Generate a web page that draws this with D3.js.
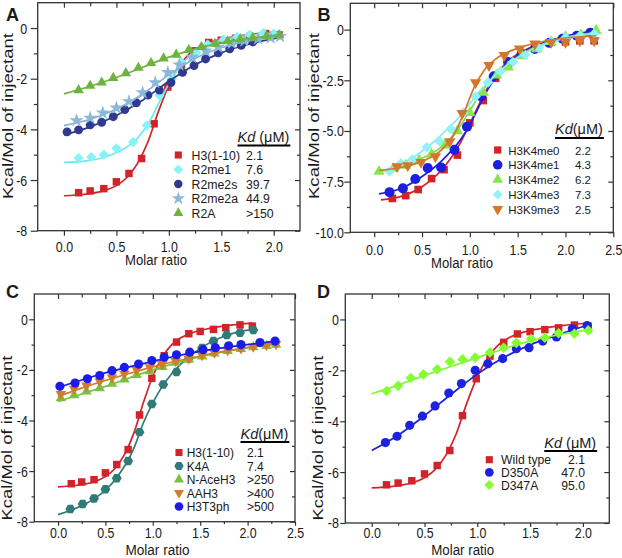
<!DOCTYPE html>
<html><head><meta charset="utf-8">
<script src="https://cdn.jsdelivr.net/npm/d3@7"></script>
<style>
body{margin:0;background:#fff}
svg{display:block}
text{font-family:'Liberation Sans',Arial,sans-serif;fill:#1a1a1a}
</style></head><body>
<svg id="c" width="622" height="558"></svg>
<script>
// ---------- DATA ----------
// Shared wild-type H3(1-10) titration (panels A, C, D)
const h3Ratio = [0.14,0.25,0.38,0.50,0.62,0.74,0.86,0.99,1.12,1.25,1.38,1.50,1.64,1.77,1.92,2.05];
const h3Heat  = [-6.50,-6.43,-6.34,-6.07,-5.74,-5.15,-3.78,-2.33,-1.44,-0.90,-0.57,-0.48,-0.40,-0.33,-0.22,-0.27];
const h3FitRatio = [0,0.2,0.4,0.5,0.6,0.7,0.8,0.9,1.0,1.1,1.2,1.3,1.4,1.6,1.8,2.05];
const h3FitHeat  = [-6.62,-6.56,-6.40,-6.22,-5.90,-5.35,-4.50,-3.30,-2.25,-1.50,-1.00,-0.72,-0.55,-0.36,-0.24,-0.15];

// Panel A
const r2me1Ratio = [0.14,0.26,0.38,0.50,0.66,0.79,0.91,1.03,1.12,1.26,1.37,1.52,1.65,1.77,1.90,2.00];
const r2me1Heat  = [-5.13,-5.09,-5.00,-4.75,-4.50,-3.84,-2.66,-2.00,-1.35,-0.98,-0.65,-0.46,-0.35,-0.26,-0.20,-0.22];
const r2me1FitRatio = [0,0.2,0.4,0.55,0.7,0.8,0.9,1.0,1.1,1.2,1.35,1.5,1.7,2.05];
const r2me1FitHeat  = [-5.30,-5.25,-5.08,-4.82,-4.35,-3.80,-3.00,-2.20,-1.55,-1.10,-0.70,-0.48,-0.32,-0.20];

const r2me2sRatio = [0.03,0.14,0.25,0.36,0.47,0.58,0.69,0.80,0.91,1.02,1.13,1.24,1.35,1.47,1.58,1.69,1.80];
const r2me2sHeat  = [-4.10,-4.02,-3.82,-3.72,-3.50,-3.22,-2.95,-2.65,-2.45,-2.15,-1.75,-1.48,-1.22,-0.98,-0.82,-0.68,-0.55];
const r2me2sFitRatio = [0,0.25,0.5,0.75,1.0,1.25,1.5,1.75,2.05];
const r2me2sFitHeat  = [-4.22,-3.90,-3.45,-2.85,-2.10,-1.45,-0.98,-0.65,-0.38];

const r2me2aRatio = [0.12,0.25,0.37,0.50,0.62,0.75,0.87,0.99,1.10,1.22,1.35,1.47,1.60,1.72,1.85,1.97,2.06];
const r2me2aHeat  = [-3.65,-3.55,-3.35,-3.15,-2.90,-2.55,-2.15,-1.75,-1.45,-1.15,-0.90,-0.75,-0.60,-0.50,-0.42,-0.38,-0.33];
const r2me2aFitRatio = [0,0.25,0.5,0.75,1.0,1.25,1.5,1.75,2.05];
const r2me2aFitHeat  = [-3.85,-3.60,-3.20,-2.60,-1.85,-1.20,-0.78,-0.52,-0.33];

const r2aRatio = [0.14,0.25,0.36,0.47,0.59,0.71,0.83,0.95,1.07,1.19,1.31,1.44,1.56,1.68,1.80,1.93,2.05];
const r2aHeat  = [-2.45,-2.28,-2.15,-1.97,-1.78,-1.57,-1.38,-1.20,-1.05,-0.87,-0.75,-0.62,-0.52,-0.44,-0.38,-0.32,-0.28];
const r2aFitRatio = [0,0.25,0.5,0.75,1.0,1.25,1.5,1.75,2.05];
const r2aFitHeat  = [-2.60,-2.30,-1.95,-1.55,-1.15,-0.82,-0.58,-0.42,-0.28];

// Panel B
const me0Ratio = [0.19,0.33,0.46,0.60,0.73,0.87,1.00,1.14,1.27,1.41,1.55,1.69,1.85,2.00,2.15,2.30];
const me0Heat  = [-8.33,-8.19,-7.89,-7.35,-6.91,-6.19,-4.60,-3.50,-2.40,-1.65,-1.20,-0.95,-0.60,-0.60,-0.55,-0.55];
const me0FitRatio = [0.07,0.3,0.5,0.7,0.9,1.0,1.1,1.2,1.4,1.6,1.9,2.32];
const me0FitHeat  = [-8.40,-8.20,-7.75,-6.95,-5.60,-4.65,-3.65,-2.75,-1.55,-0.95,-0.50,-0.28];

const me1Ratio = [0.16,0.30,0.43,0.56,0.70,0.84,0.97,1.12,1.25,1.40,1.54,1.68,1.83,1.97,2.12,2.26];
const me1Heat  = [-8.02,-7.83,-7.37,-6.83,-6.80,-5.93,-4.79,-3.30,-2.30,-1.60,-1.20,-0.95,-0.65,-0.45,-0.30,-0.15];
const me1FitRatio = [0.05,0.3,0.5,0.7,0.9,1.0,1.1,1.2,1.4,1.6,1.9,2.32];
const me1FitHeat  = [-8.10,-7.80,-7.25,-6.50,-5.45,-4.70,-3.75,-2.85,-1.65,-1.00,-0.45,-0.05];

const me2Ratio = [0.05,0.20,0.33,0.47,0.60,0.74,0.87,1.00,1.14,1.28,1.40,1.55,1.70,1.85,2.00,2.16,2.32];
const me2Heat  = [-7.00,-6.85,-6.70,-6.45,-6.15,-5.70,-5.00,-4.10,-3.10,-2.25,-1.85,-1.30,-0.95,-0.60,-0.35,-0.25,-0.05];
const me2FitRatio = [0.05,0.3,0.5,0.7,0.9,1.0,1.1,1.2,1.3,1.4,1.6,1.9,2.32];
const me2FitHeat  = [-7.00,-6.75,-6.35,-5.80,-4.75,-4.00,-3.25,-2.60,-2.10,-1.70,-1.05,-0.50,-0.15];

const me3Ratio = [0.16,0.28,0.40,0.55,0.68,0.80,0.93,1.06,1.19,1.32,1.45,1.58,1.72,1.86,2.00,2.15,2.30];
const me3Heat  = [-7.00,-6.60,-6.40,-5.80,-5.50,-4.90,-4.10,-3.30,-2.60,-2.05,-1.60,-1.25,-0.90,-0.60,-0.40,-0.30,-0.20];
const me3FitRatio = [0.1,0.3,0.5,0.7,0.9,1.0,1.1,1.2,1.4,1.6,1.9,2.32];
const me3FitHeat  = [-6.95,-6.60,-6.00,-5.20,-4.25,-3.65,-3.05,-2.55,-1.70,-1.10,-0.55,-0.20];

const k9Ratio = [0.24,0.35,0.49,0.64,0.79,0.92,1.06,1.20,1.36,1.52,1.68,1.85,2.00,2.15,2.30];
const k9Heat  = [-6.75,-6.70,-6.54,-6.26,-5.52,-4.13,-2.61,-1.76,-1.27,-0.95,-0.70,-0.62,-0.62,-0.54,-0.54];
const k9FitRatio = [0.05,0.3,0.5,0.7,0.85,0.95,1.05,1.15,1.3,1.5,1.8,2.32];
const k9FitHeat  = [-6.95,-6.78,-6.50,-5.95,-5.05,-3.95,-2.80,-2.00,-1.35,-0.92,-0.55,-0.30];

// Panel C
const k4aRatio = [0.13,0.26,0.38,0.50,0.62,0.74,0.86,0.99,1.11,1.25,1.38,1.52,1.64,1.78,1.92,2.06];
const k4aHeat  = [-7.50,-7.30,-7.08,-6.72,-6.28,-5.60,-4.46,-3.35,-2.58,-2.08,-1.55,-1.13,-0.86,-0.62,-0.53,-0.42];
const k4aFitRatio = [0,0.2,0.4,0.6,0.8,0.9,1.0,1.1,1.2,1.3,1.5,1.7,1.9,2.06];
const k4aFitHeat  = [-7.72,-7.45,-7.05,-6.35,-5.10,-4.10,-3.30,-2.65,-2.15,-1.75,-1.15,-0.75,-0.50,-0.40];

const naceRatio = [0.03,0.17,0.30,0.44,0.57,0.70,0.83,0.97,1.10,1.24,1.38,1.52,1.65,1.79,1.93,2.06,2.20,2.30];
const naceHeat  = [-3.12,-3.00,-2.85,-2.72,-2.55,-2.38,-2.20,-2.05,-1.88,-1.72,-1.60,-1.47,-1.35,-1.25,-1.17,-1.10,-1.05,-1.00];
const naceFitRatio = [0,0.25,0.5,0.75,1.0,1.25,1.5,1.75,2.0,2.3];
const naceFitHeat  = [-3.25,-2.95,-2.65,-2.32,-2.00,-1.72,-1.48,-1.28,-1.12,-0.98];

const aah3Ratio = [0.03,0.17,0.30,0.44,0.57,0.70,0.83,0.97,1.10,1.24,1.38,1.52,1.65,1.79,1.93,2.06,2.20,2.30];
const aah3Heat  = [-2.95,-2.75,-2.62,-2.45,-2.30,-2.15,-2.00,-1.90,-1.78,-1.65,-1.55,-1.42,-1.32,-1.22,-1.15,-1.08,-1.02,-0.98];
const aah3FitRatio = [0,0.25,0.5,0.75,1.0,1.25,1.5,1.75,2.0,2.3];
const aah3FitHeat  = [-3.05,-2.72,-2.42,-2.14,-1.88,-1.65,-1.45,-1.27,-1.12,-0.97];

const t3phRatio = [0.02,0.18,0.31,0.44,0.57,0.70,0.85,0.99,1.12,1.25,1.39,1.53,1.66,1.80,1.93,2.13,2.29];
const t3phHeat  = [-2.65,-2.52,-2.35,-2.22,-2.03,-1.90,-1.77,-1.63,-1.50,-1.40,-1.30,-1.20,-1.12,-1.05,-1.00,-0.92,-0.86];
const t3phFitRatio = [0,0.25,0.5,0.75,1.0,1.25,1.5,1.75,2.0,2.3];
const t3phFitHeat  = [-2.70,-2.40,-2.12,-1.88,-1.66,-1.45,-1.27,-1.12,-1.00,-0.86];

// Panel D
const d350Ratio = [0.13,0.24,0.36,0.48,0.60,0.73,0.85,0.98,1.10,1.24,1.37,1.49,1.62,1.75,1.90,2.04];
const d350Heat  = [-4.84,-4.59,-4.16,-3.80,-3.40,-2.89,-2.52,-2.00,-1.74,-1.54,-1.15,-1.11,-0.85,-0.69,-0.37,-0.24];
const d350FitRatio = [0,0.25,0.5,0.75,1.0,1.25,1.5,1.75,2.05];
const d350FitHeat  = [-5.15,-4.55,-3.78,-2.95,-2.15,-1.50,-1.00,-0.62,-0.22];

const d347Ratio = [0.14,0.25,0.37,0.49,0.62,0.74,0.86,0.98,1.12,1.25,1.37,1.51,1.64,1.77,1.92,2.05];
const d347Heat  = [-2.81,-2.61,-2.30,-2.16,-1.96,-1.66,-1.57,-1.50,-1.30,-1.11,-0.92,-0.77,-0.72,-0.54,-0.56,-0.43];
const d347FitRatio = [0,0.25,0.5,0.75,1.0,1.25,1.5,1.75,2.05];
const d347FitHeat  = [-2.92,-2.58,-2.20,-1.85,-1.50,-1.15,-0.85,-0.62,-0.40];

// Legends
const labelsA = ["H3(1-10)","R2me1","R2me2s","R2me2a","R2A"];
const kdA = ["2.1","7.6","39.7","44.9",">150"];
const labelsB = ["H3K4me0","H3K4me1","H3K4me2","H3K4me3","H3K9me3"];
const kdB = ["2.2","4.3","6.2","7.3","2.5"];
const labelsC = ["H3(1-10)","K4A","N-AceH3","AAH3","H3T3ph"];
const kdC = ["2.1","7.4",">250",">400",">500"];
const labelsD = ["Wild type","D350A","D347A"];
const kdD = ["2.1","47.0","95.0"];

// Ticks
const xTicks25 = [0,0.5,1.0,1.5,2.0,2.5];
const xTicks20 = [0,0.5,1.0,1.5,2.0];
const xMinor = [0.25,0.75,1.25,1.75,2.25];
const yTicks8 = [-8,-6,-4,-2,0];
const yMinor8 = [-7,-5,-3,-1];
const yTicks10 = [-10,-7.5,-5,-2.5,0];
const yMinor10 = [-8.75,-6.25,-3.75,-1.25];

// ---------- DRAWING ----------
const svg = d3.select("#c");

const symbolHex = {draw(ctx, size){
  const r = Math.sqrt(size*2/(3*Math.sqrt(3)));
  for(let i=0;i<6;i++){const a=Math.PI/3*i; const px=r*Math.cos(a), py=r*Math.sin(a); if(i===0) ctx.moveTo(px,py); else ctx.lineTo(px,py);}
  ctx.closePath();
}};
const SH = {
  square:{t:d3.symbolSquare,r:0}, circle:{t:d3.symbolCircle,r:0}, up:{t:d3.symbolTriangle,r:0},
  down:{t:d3.symbolTriangle,r:180}, diamond:{t:d3.symbolSquare,r:45}, star:{t:d3.symbolStar,r:0}, hex:{t:symbolHex,r:0}
};

const fmtX = d => d.toFixed(1);
const fmtY8 = d => d === 0 ? "0" : "-" + Math.abs(d);
const fmtY10 = d => d === 0 ? "0" : "-" + Math.abs(d).toFixed(1);

function drawPanel(p){
  const x = d3.scaleLinear().domain(p.xDom).range([p.left,p.right]);
  const y = d3.scaleLinear().domain(p.yDom).range([p.bottom,p.top]);
  const g = svg.append("g");
  const style = sel => {
    sel.select(".domain").remove();
    sel.selectAll(".tick line").attr("stroke","#333").attr("stroke-width",1.2);
    sel.selectAll(".tick text").attr("fill","#1a1a1a").style("font-size","15.5px")
      .style("font-family","'Liberation Sans',Arial,sans-serif")
      .each(function(){ const L=this.getComputedTextLength(); if(L>0){ d3.select(this).attr("textLength",L*0.8).attr("lengthAdjust","spacingAndGlyphs"); } });
  };
  const xm = p.xMajor, xn = xMinor.filter(v=>v<p.xDom[1]);
  // bottom
  g.append("g").attr("transform",`translate(0,${p.bottom})`)
    .call(d3.axisBottom(x).tickValues(xm).tickSize(p.bt).tickPadding(p.bp).tickFormat(fmtX)).call(style);
  g.append("g").attr("transform",`translate(0,${p.bottom})`)
    .call(d3.axisBottom(x).tickValues(xn).tickSize(p.bt*0.6).tickFormat("")).call(style);
  // top (inward)
  g.append("g").attr("transform",`translate(0,${p.top})`)
    .call(d3.axisTop(x).tickValues(xm).tickSize(-5).tickFormat("")).call(style);
  g.append("g").attr("transform",`translate(0,${p.top})`)
    .call(d3.axisTop(x).tickValues(xn).tickSize(-3.5).tickFormat("")).call(style);
  // left
  g.append("g").attr("transform",`translate(${p.left},0)`)
    .call(d3.axisLeft(y).tickValues(p.yMajor).tickSize(p.lt).tickPadding(p.lp).tickFormat(p.fmtY)).call(style);
  g.append("g").attr("transform",`translate(${p.left},0)`)
    .call(d3.axisLeft(y).tickValues(p.yMinor).tickSize(p.lt*0.55).tickFormat("")).call(style);
  // right (inward)
  g.append("g").attr("transform",`translate(${p.right},0)`)
    .call(d3.axisRight(y).tickValues(p.yMajor).tickSize(-5).tickFormat("")).call(style);
  g.append("g").attr("transform",`translate(${p.right},0)`)
    .call(d3.axisRight(y).tickValues(p.yMinor).tickSize(-3).tickFormat("")).call(style);
  // frame
  g.append("rect").attr("x",p.left).attr("y",p.top).attr("width",p.right-p.left).attr("height",p.bottom-p.top)
    .attr("fill","none").attr("stroke","#333").attr("stroke-width",1.3);

  // series
  const line = d3.line().x(d=>x(d[0])).y(d=>y(d[1])).curve(d3.curveMonotoneX);
  p.series.forEach(s=>{
    g.append("path").datum(d3.zip(s.fx,s.fy)).attr("d",line)
      .attr("fill","none").attr("stroke",s.lc||s.c).attr("stroke-width",1.7);
    const sh = SH[s.shape];
    g.append("g").selectAll("path").data(d3.zip(s.x,s.y)).join("path")
      .attr("transform",d=>`translate(${x(d[0])},${y(d[1])}) rotate(${sh.r})`)
      .attr("d",d3.symbol(sh.t,s.size)()).attr("fill",s.c);
  });

  // panel letter
  g.append("text").attr("x",p.lx).attr("y",p.ly).text(p.letter)
    .style("font-weight","bold").style("font-size","18px").attr("fill","#000");
  // axis titles
  g.append("text").attr("x",p.xtx).attr("y",p.xty).attr("text-anchor","middle")
    .style("font-size","14px").attr("textLength",p.xtl).attr("lengthAdjust","spacingAndGlyphs").text("Molar ratio");
  g.append("text").attr("transform",`translate(${p.ytx},${p.yty}) rotate(-90)`).attr("text-anchor","middle")
    .style("font-size","14px").attr("textLength",p.ytl).attr("lengthAdjust","spacingAndGlyphs").text("Kcal/Mol of injectant");

  // legend header
  const hd = g.append("text").attr("x",p.hx).attr("y",p.hy).style("font-size","14.5px");
  hd.append("tspan").style("font-style","italic").text("Kd");
  hd.append("tspan").text(p.hsp ? " (\u03bcM)" : "(\u03bcM)");
  const w = hd.node().getComputedTextLength();
  g.append("line").attr("x1",p.hx).attr("x2",p.hx+w+1).attr("y1",p.uy).attr("y2",p.uy)
    .attr("stroke","#000").attr("stroke-width",1.8);
  // legend rows
  p.series.forEach((s,i)=>{
    const ry = p.ry0 + i*p.rdy, sh = SH[s.shape];
    g.append("path").attr("transform",`translate(${p.mx},${ry}) rotate(${sh.r})`)
      .attr("d",d3.symbol(sh.t,s.size*0.9)()).attr("fill",s.c);
    g.append("text").attr("x",p.tx).attr("y",ry+4.5).style("font-size",p.lfs).text(p.labels[i]);
    g.append("text").attr("x",p.vx).attr("y",ry+4.5).attr("text-anchor",p.va||"start").style("font-size",p.lfs).text(p.kd[i]);
  });
}

const RED = "#d2232a";
drawPanel({letter:"A",lx:6,ly:21,left:37.7,right:300,top:2.7,bottom:230.7,xDom:[-0.25,2.25],yDom:[-8,1],
  xMajor:xTicks20,yMajor:yTicks8,yMinor:yMinor8,fmtY:fmtY8,bt:5,bp:5,lt:7,lp:3.5,
  xtx:156,xty:265,xtl:62,ytx:12.5,yty:116,ytl:166,
  hx:237.5,hy:142,uy:145.5,hsp:true,mx:178.3,ry0:155,rdy:14.5,tx:191.5,vx:246,lfs:"12.3px",
  labels:labelsA,kd:kdA,
  series:[
    {x:h3Ratio,y:h3Heat,fx:h3FitRatio,fy:h3FitHeat,c:RED,shape:"square",size:56},
    {x:r2me1Ratio,y:r2me1Heat,fx:r2me1FitRatio,fy:r2me1FitHeat,c:"#86f4f7",lc:"#6de8ef",shape:"diamond",size:52},
    {x:r2me2sRatio,y:r2me2sHeat,fx:r2me2sFitRatio,fy:r2me2sFitHeat,c:"#2e3a91",shape:"circle",size:62},
    {x:r2me2aRatio,y:r2me2aHeat,fx:r2me2aFitRatio,fy:r2me2aFitHeat,c:"#8bb9da",lc:"#80b2d6",shape:"star",size:62},
    {x:r2aRatio,y:r2aHeat,fx:r2aFitRatio,fy:r2aFitHeat,c:"#6db33f",shape:"up",size:48}
  ]});

drawPanel({letter:"B",lx:317.5,ly:21,left:350.3,right:613.3,top:3.3,bottom:232.3,xDom:[-0.25,2.5],yDom:[-10,1.3],
  xMajor:xTicks25,yMajor:yTicks10,yMinor:yMinor10,fmtY:fmtY10,bt:5,bp:7,lt:6,lp:0.5,
  xtx:462,xty:268,xtl:62,ytx:319,yty:116,ytl:166,
  hx:555,hy:134,uy:138,hsp:false,mx:497.7,ry0:150,rdy:14.8,tx:508.3,vx:575,lfs:"11.5px",
  labels:labelsB,kd:kdB,
  series:[
    {x:me0Ratio,y:me0Heat,fx:me0FitRatio,fy:me0FitHeat,c:RED,shape:"square",size:58},
    {x:me1Ratio,y:me1Heat,fx:me1FitRatio,fy:me1FitHeat,c:"#1c1fe0",shape:"circle",size:80},
    {x:me2Ratio,y:me2Heat,fx:me2FitRatio,fy:me2FitHeat,c:"#86e64a",lc:"#7edc44",shape:"up",size:56},
    {x:me3Ratio,y:me3Heat,fx:me3FitRatio,fy:me3FitHeat,c:"#93f2f5",lc:"#86ecf0",shape:"diamond",size:56},
    {x:k9Ratio,y:k9Heat,fx:k9FitRatio,fy:k9FitHeat,c:"#d4762c",shape:"down",size:56}
  ]});

drawPanel({letter:"C",lx:6,ly:297.5,left:34.3,right:295,top:294,bottom:521.7,xDom:[-0.25,2.5],yDom:[-8,1],
  xMajor:xTicks25,yMajor:yTicks8,yMinor:yMinor8,fmtY:fmtY8,bt:4,bp:1.3,lt:5,lp:1.5,
  xtx:157.5,xty:555,xtl:64,ytx:11.5,yty:438,ytl:165,
  hx:240.5,hy:438.5,uy:442,hsp:false,mx:179,ry0:452.5,rdy:13.5,tx:186.7,vx:247,lfs:"12px",
  labels:labelsC,kd:kdC,
  series:[
    {x:h3Ratio,y:h3Heat,fx:h3FitRatio,fy:h3FitHeat,c:RED,shape:"square",size:56},
    {x:k4aRatio,y:k4aHeat,fx:k4aFitRatio,fy:k4aFitHeat,c:"#2f7b78",shape:"hex",size:62},
    {x:naceRatio,y:naceHeat,fx:naceFitRatio,fy:naceFitHeat,c:"#7cc043",shape:"up",size:48},
    {x:aah3Ratio,y:aah3Heat,fx:aah3FitRatio,fy:aah3FitHeat,c:"#d27c2a",shape:"down",size:48},
    {x:t3phRatio,y:t3phHeat,fx:t3phFitRatio,fy:t3phFitHeat,c:"#1c1ce8",shape:"circle",size:66}
  ]});

drawPanel({letter:"D",lx:317,ly:297.5,left:345.3,right:609.3,top:294,bottom:523,xDom:[-0.25,2.25],yDom:[-8,1],
  xMajor:xTicks20,yMajor:yTicks8,yMinor:yMinor8,fmtY:fmtY8,bt:4,bp:0,lt:5,lp:1.5,
  xtx:462.7,xty:555,xtl:63,ytx:322.5,yty:438,ytl:165,
  hx:544.3,hy:448,uy:451,hsp:true,mx:489.3,ry0:459.7,rdy:12.65,tx:501,vx:585,va:"end",lfs:"12.2px",
  labels:labelsD,kd:kdD,
  series:[
    {x:h3Ratio,y:h3Heat,fx:h3FitRatio,fy:h3FitHeat,c:RED,shape:"square",size:56},
    {x:d350Ratio,y:d350Heat,fx:d350FitRatio,fy:d350FitHeat,c:"#1c22e0",shape:"circle",size:66},
    {x:d347Ratio,y:d347Heat,fx:d347FitRatio,fy:d347FitHeat,c:"#84ff33",lc:"#80f53a",shape:"diamond",size:56}
  ]});
</script>
</body></html>
